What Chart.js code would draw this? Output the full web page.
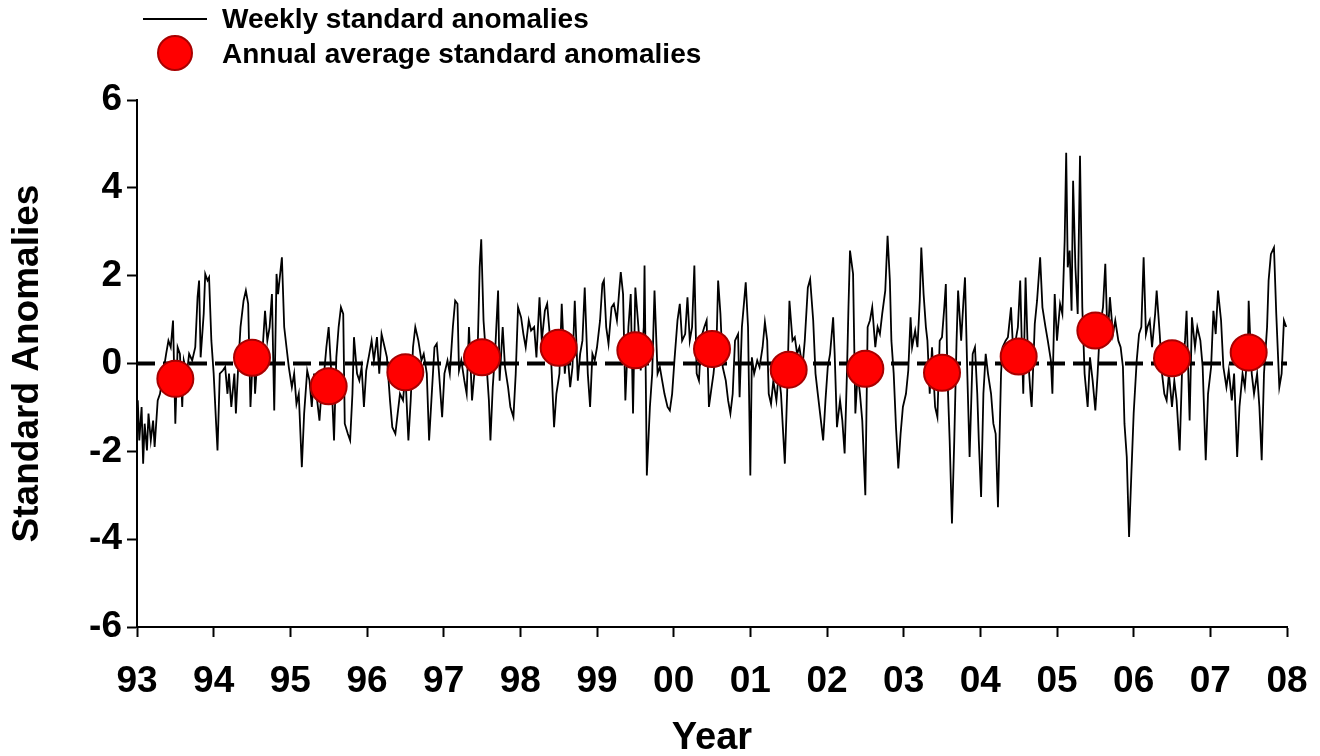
<!DOCTYPE html>
<html>
<head>
<meta charset="utf-8">
<title>Standard anomalies 1993-2008</title>
<script src="https://cdn.jsdelivr.net/npm/chart.js@4.4.1/dist/chart.umd.min.js"></script>
<style>
  html, body { margin: 0; padding: 0; background: #fff; }
  #wrap { width: 1320px; height: 756px; }
</style>
</head>
<body>
<div id="wrap"><canvas id="anomalyChart" width="1320" height="756"></canvas></div>
<script>
// x axis labels, one per year boundary
const xTickLabels = ["93", "94", "95", "96", "97", "98", "99", "00", "01", "02", "03", "04", "05", "06", "07", "08"];

// annual averages, plotted at mid-year
const annualYears = [1993.5, 1994.5, 1995.5, 1996.5, 1997.5, 1998.5, 1999.5, 2000.5,
  2001.5, 2002.5, 2003.5, 2004.5, 2005.5, 2006.5, 2007.5];
const annualValues = [-0.35, 0.13, -0.52, -0.2, 0.14, 0.36, 0.3, 0.33,
  -0.14, -0.12, -0.21, 0.16, 0.75, 0.12, 0.25];

// weekly anomalies (decimal year / value), one line per year
const weekDates = [
  1993.01, 1993.03, 1993.06, 1993.08, 1993.10, 1993.13, 1993.15, 1993.18, 1993.21, 1993.23, 1993.27, 1993.30, 1993.34, 1993.38, 1993.41, 1993.44, 1993.47, 1993.50, 1993.53, 1993.56, 1993.59, 1993.61, 1993.65, 1993.68, 1993.72, 1993.76, 1993.79, 1993.81, 1993.83, 1993.87, 1993.89, 1993.92, 1993.94, 1993.97,
  1994.00, 1994.03, 1994.05, 1994.08, 1994.12, 1994.15, 1994.18, 1994.20, 1994.23, 1994.27, 1994.29, 1994.32, 1994.35, 1994.39, 1994.42, 1994.45, 1994.48, 1994.52, 1994.54, 1994.58, 1994.61, 1994.64, 1994.67, 1994.70, 1994.73, 1994.76, 1994.79, 1994.82, 1994.84, 1994.89, 1994.92, 1994.95, 1994.98,
  1995.02, 1995.05, 1995.08, 1995.11, 1995.15, 1995.18, 1995.22, 1995.25, 1995.28, 1995.31, 1995.35, 1995.38, 1995.41, 1995.44, 1995.47, 1995.50, 1995.53, 1995.57, 1995.60, 1995.63, 1995.66, 1995.69, 1995.71, 1995.75, 1995.78, 1995.81, 1995.83, 1995.87, 1995.90, 1995.93, 1995.96, 1995.99,
  1996.03, 1996.06, 1996.09, 1996.13, 1996.16, 1996.19, 1996.23, 1996.26, 1996.30, 1996.33, 1996.37, 1996.40, 1996.43, 1996.47, 1996.50, 1996.54, 1996.57, 1996.60, 1996.63, 1996.67, 1996.71, 1996.74, 1996.78, 1996.81, 1996.84, 1996.88, 1996.91, 1996.94, 1996.98,
  1997.01, 1997.05, 1997.08, 1997.12, 1997.15, 1997.18, 1997.20, 1997.23, 1997.27, 1997.30, 1997.33, 1997.37, 1997.40, 1997.44, 1997.47, 1997.49, 1997.52, 1997.55, 1997.59, 1997.61, 1997.64, 1997.67, 1997.71, 1997.73, 1997.77, 1997.80, 1997.84, 1997.87, 1997.91, 1997.94, 1997.97,
  1998.01, 1998.04, 1998.07, 1998.11, 1998.14, 1998.18, 1998.21, 1998.25, 1998.28, 1998.32, 1998.35, 1998.39, 1998.41, 1998.44, 1998.47, 1998.51, 1998.54, 1998.58, 1998.61, 1998.65, 1998.68, 1998.71, 1998.75, 1998.78, 1998.81, 1998.84, 1998.88, 1998.91, 1998.94, 1998.97,
  1999.00, 1999.04, 1999.07, 1999.09, 1999.12, 1999.15, 1999.19, 1999.22, 1999.26, 1999.29, 1999.31, 1999.34, 1999.37, 1999.41, 1999.44, 1999.47, 1999.50, 1999.54, 1999.57, 1999.61, 1999.62, 1999.65, 1999.69, 1999.72, 1999.75, 1999.79, 1999.82, 1999.85, 1999.88, 1999.92, 1999.95, 1999.98,
  2000.01, 2000.05, 2000.08, 2000.11, 2000.15, 2000.18, 2000.21, 2000.24, 2000.27, 2000.30, 2000.33, 2000.36, 2000.40, 2000.43, 2000.46, 2000.49, 2000.52, 2000.56, 2000.58, 2000.61, 2000.64, 2000.68, 2000.71, 2000.74, 2000.77, 2000.80, 2000.84, 2000.86, 2000.89, 2000.92, 2000.94, 2000.97,
  2001.00, 2001.02, 2001.05, 2001.09, 2001.12, 2001.16, 2001.19, 2001.22, 2001.24, 2001.27, 2001.30, 2001.34, 2001.37, 2001.40, 2001.45, 2001.48, 2001.51, 2001.55, 2001.58, 2001.61, 2001.64, 2001.68, 2001.71, 2001.75, 2001.78, 2001.82, 2001.85, 2001.88, 2001.91, 2001.95, 2001.98,
  2002.01, 2002.04, 2002.08, 2002.10, 2002.13, 2002.17, 2002.20, 2002.23, 2002.26, 2002.28, 2002.30, 2002.34, 2002.37, 2002.40, 2002.43, 2002.46, 2002.50, 2002.53, 2002.56, 2002.59, 2002.63, 2002.66, 2002.69, 2002.72, 2002.76, 2002.79, 2002.82, 2002.84, 2002.87, 2002.90, 2002.93, 2002.96, 2002.99,
  2003.03, 2003.06, 2003.09, 2003.11, 2003.15, 2003.18, 2003.21, 2003.23, 2003.26, 2003.29, 2003.31, 2003.34, 2003.37, 2003.41, 2003.44, 2003.47, 2003.50, 2003.53, 2003.55, 2003.57, 2003.60, 2003.63, 2003.66, 2003.69, 2003.71, 2003.75, 2003.78, 2003.80, 2003.83, 2003.86, 2003.90, 2003.93, 2003.96, 2003.98,
  2004.01, 2004.04, 2004.07, 2004.10, 2004.14, 2004.17, 2004.20, 2004.23, 2004.27, 2004.29, 2004.33, 2004.36, 2004.40, 2004.43, 2004.46, 2004.49, 2004.52, 2004.54, 2004.56, 2004.59, 2004.62, 2004.66, 2004.67, 2004.71, 2004.74, 2004.78, 2004.81, 2004.85, 2004.88, 2004.92, 2004.94, 2004.97,
  2005.00, 2005.04, 2005.07, 2005.10, 2005.12, 2005.14, 2005.165, 2005.19, 2005.21, 2005.24, 2005.27, 2005.30, 2005.33, 2005.36, 2005.40, 2005.43, 2005.465, 2005.50, 2005.53, 2005.56, 2005.60, 2005.63, 2005.66, 2005.69, 2005.73, 2005.76, 2005.80, 2005.83, 2005.86, 2005.88, 2005.91, 2005.94, 2005.97,
  2006.00, 2006.04, 2006.07, 2006.10, 2006.13, 2006.16, 2006.18, 2006.21, 2006.24, 2006.28, 2006.30, 2006.34, 2006.37, 2006.40, 2006.43, 2006.46, 2006.50, 2006.53, 2006.56, 2006.60, 2006.63, 2006.67, 2006.69, 2006.73, 2006.76, 2006.80, 2006.83, 2006.87, 2006.90, 2006.94, 2006.97,
  2007.01, 2007.04, 2007.07, 2007.10, 2007.14, 2007.17, 2007.21, 2007.24, 2007.28, 2007.31, 2007.35, 2007.38, 2007.42, 2007.45, 2007.49, 2007.50, 2007.54, 2007.57, 2007.61, 2007.64, 2007.67, 2007.70, 2007.74, 2007.76, 2007.79, 2007.83, 2007.86, 2007.90, 2007.93, 2007.96, 2007.99
];
const weekValues = [
  -0.84, -1.75, -0.99, -2.28, -1.37, -1.98, -1.14, -1.75, -1.30, -1.90, -0.84, -0.69, -0.23, 0.22, 0.52, 0.37, 0.98, -1.37, 0.37, 0.22, -0.99, 0.07, -0.23, 0.22, 0.07, 0.37, 1.51, 1.89, 0.14, 1.13, 2.04, 1.89, 1.96, 0.52,
  -0.23, -1.30, -1.98, -0.23, -0.16, -0.08, -0.69, -0.23, -0.99, -0.23, -1.14, -0.08, 0.83, 1.43, 1.66, 1.36, -0.99, 0.52, -0.69, 0.37, -0.23, 0.37, 1.20, 0.52, 0.83, 1.58, -1.07, 2.04, 1.58, 2.42, 0.83, 0.37, -0.08,
  -0.54, -0.23, -0.92, -0.69, -2.36, -1.14, -0.16, -0.39, -0.99, -0.23, -0.84, -1.30, -0.54, -0.23, 0.37, 0.83, -0.08, -1.75, 0.14, 0.83, 1.28, 1.13, -1.37, -1.60, -1.75, -0.69, 0.60, -0.23, -0.39, -0.08, -0.99, -0.16,
  0.22, 0.52, 0.07, 0.60, -0.23, 0.67, 0.37, 0.14, -0.84, -1.45, -1.60, -1.14, -0.69, -0.84, -0.23, -1.75, -0.84, 0.37, 0.83, 0.52, 0.07, 0.22, -0.23, -1.75, -0.84, 0.37, 0.45, -0.23, -1.22,
  -0.23, 0.07, -0.23, 0.83, 1.43, 1.36, -0.16, 0.07, -0.39, -0.69, 0.83, -0.84, -0.23, 0.07, 2.19, 2.83, 0.98, 0.22, -0.84, -1.75, -0.54, 0.22, 1.66, -0.39, 0.83, -0.08, -0.54, -0.99, -1.22, -0.23, 1.28,
  1.05, 0.67, 0.37, 0.98, 0.75, 0.83, 0.14, 1.51, 0.52, 1.20, 1.36, 0.52, -0.23, -1.45, -0.69, -0.23, 1.36, -0.23, 0.37, -0.54, -0.08, 1.43, -0.39, 0.22, 0.52, 1.73, -0.23, -0.99, 0.22, 0.07,
  0.37, 0.98, 1.81, 1.89, 0.83, 0.45, 1.28, 1.36, 0.98, 1.66, 2.08, 1.58, -0.84, 0.83, 1.58, -1.14, 1.73, 0.83, -0.16, 0.83, 2.23, -2.55, -0.99, -0.23, 1.66, -0.23, -0.08, -0.39, -0.69, -0.99, -1.07, -0.69,
  0.07, 0.98, 1.36, 0.52, 0.67, 1.51, 0.52, 0.83, 2.23, -0.23, -0.39, 0.60, 0.83, 0.98, -0.99, -0.60, -0.23, 0.52, 1.89, 1.13, -0.08, -0.39, -0.84, -1.14, -0.69, 0.52, 0.67, -0.77, 0.83, 1.43, 1.85, 0.83,
  -2.55, 0.14, -0.23, 0.07, -0.08, 0.37, 0.94, 0.52, -0.69, -0.92, -0.39, -0.84, -0.23, -0.69, -2.28, -0.69, 1.43, 0.52, 0.60, 0.22, 0.37, -0.08, 0.52, 1.73, 1.92, 0.98, -0.23, -0.69, -1.14, -1.75, -0.84,
  -0.08, 0.22, 1.05, 0.22, -1.45, -0.84, -1.30, -2.05, -0.23, 1.28, 2.57, 2.04, -1.14, -0.23, -0.69, -1.30, -3.00, 0.83, 0.98, 1.28, 0.37, 0.83, 0.67, 1.13, 1.66, 2.91, 1.89, 0.52, -0.23, -1.45, -2.39, -1.60, -0.99,
  -0.69, -0.16, 1.05, 0.37, 0.75, 0.37, 1.43, 2.64, 1.58, 0.83, 0.52, -0.69, 0.37, -0.99, -1.22, 0.52, 0.60, 1.28, 1.81, -0.23, -1.75, -3.64, -1.75, 0.52, 1.66, 0.52, 1.43, 1.96, -0.23, -2.13, 0.22, 0.37, -0.69, -1.75,
  -3.04, -0.69, 0.22, -0.23, -0.69, -1.37, -1.60, -3.27, -0.23, 0.37, 0.52, 0.60, 1.28, 0.22, 0.52, 0.83, 1.89, 0.52, -0.69, 1.96, 0.22, -0.84, -0.99, 0.90, 1.43, 2.42, 1.28, 0.83, 0.52, 0.07, -0.69, 1.58,
  0.52, 1.36, 1.13, 2.80, 4.80, 2.19, 2.57, 1.20, 4.16, 2.19, 1.13, 4.73, 1.28, -0.23, -0.99, 0.14, -0.39, -1.07, -0.23, 0.83, 1.28, 2.27, 0.52, 1.51, 0.67, 0.98, 0.52, 0.37, -0.08, -1.37, -2.13, -3.95, -2.51,
  -1.14, 0.07, 0.67, 0.83, 2.42, 0.67, 0.83, 0.98, 0.37, 1.13, 1.66, 0.67, -0.23, -0.69, -0.84, -0.23, -0.99, -0.39, -0.84, -1.98, -0.23, 0.52, 1.20, -1.30, 1.05, 0.37, 0.83, 0.52, -0.08, -2.20, -0.69,
  -0.08, 1.20, 0.67, 1.66, 0.98, -0.08, -0.54, -0.16, -0.84, -0.23, -2.13, -0.99, -0.23, -0.54, 0.37, 1.43, -0.23, -0.69, -0.23, -0.99, -2.20, -0.23, 0.83, 1.89, 2.49, 2.64, 1.13, -0.54, -0.23, 0.98, 0.83
];

const FONT = 'Arial, "Liberation Sans", sans-serif';

// legend drawn top-left, above the plot area
const cornerLegend = {
  id: "cornerLegend",
  afterDraw(chart) {
    const ctx = chart.ctx;
    const annual = chart.data.datasets[0];
    const weekly = chart.data.datasets[2];
    ctx.save();
    ctx.font = "bold 28px " + FONT;
    ctx.fillStyle = "#000";
    ctx.textBaseline = "middle";

    ctx.strokeStyle = "#000";
    ctx.lineWidth = 2;
    ctx.beginPath();
    ctx.moveTo(143, 19);
    ctx.lineTo(207, 19);
    ctx.stroke();
    ctx.fillText(weekly.label, 222, 20);

    ctx.beginPath();
    ctx.arc(175, 53, 17, 0, Math.PI * 2);
    ctx.fillStyle = annual.pointBackgroundColor;
    ctx.fill();
    ctx.lineWidth = 2;
    ctx.strokeStyle = annual.pointBorderColor;
    ctx.stroke();
    ctx.fillStyle = "#000";
    ctx.fillText(annual.label, 222, 55);
    ctx.restore();
  }
};

const ctx = document.getElementById("anomalyChart").getContext("2d");
new Chart(ctx, {
  type: "line",
  data: {
    datasets: [
      {
        label: "Annual average standard anomalies",
        data: annualYears.map((yr, i) => ({ x: yr, y: annualValues[i] })),
        showLine: false,
        pointRadius: 18,
        pointBackgroundColor: "#ff0000",
        pointBorderColor: "#a80000",
        pointBorderWidth: 2,
      },
      {
        label: "zero",
        data: [{ x: 1993, y: 0 }, { x: 2008, y: 0 }],
        borderColor: "#000",
        borderWidth: 4,
        borderDash: [18, 8],
        pointRadius: 0,
      },
      {
        label: "Weekly standard anomalies",
        data: weekDates.map((t, i) => ({ x: t, y: weekValues[i] })),
        borderColor: "#000",
        borderWidth: 1.8,
        pointRadius: 0,
        tension: 0,
      },
    ],
  },
  options: {
    responsive: false,
    animation: false,
    events: [],
    layout: { padding: { top: 100, right: 33, left: 0, bottom: 0 } },
    plugins: {
      legend: { display: false },
      tooltip: { enabled: false },
    },
    scales: {
      x: {
        type: "linear",
        min: 1993,
        max: 2008,
        afterBuildTicks: (scale) => {
          scale.ticks = xTickLabels.map((_, i) => ({ value: 1993 + i }));
        },
        afterFit: (scale) => {
          scale.height = 129;
          scale.paddingLeft = 0;
          scale.paddingRight = 0;
        },
        ticks: {
          autoSkip: false,
          maxRotation: 0,
          color: "#000",
          padding: 23,
          font: { family: FONT, size: 37, weight: "bold" },
          callback: (value) => xTickLabels[Math.round(value - 1993)],
        },
        grid: {
          drawOnChartArea: false,
          tickLength: 10,
          tickWidth: 2,
          tickColor: "#000",
        },
        border: { display: true, color: "#000", width: 2 },
        title: {
          display: true,
          text: "Year",
          color: "#000",
          padding: { top: 0, bottom: 0 },
          font: { family: FONT, size: 38, weight: "bold", lineHeight: 0.9 },
        },
      },
      y: {
        min: -6,
        max: 6,
        afterFit: (scale) => {
          scale.width = 137;
          scale.paddingTop = 0;
          scale.paddingBottom = 0;
        },
        ticks: {
          stepSize: 2,
          color: "#000",
          padding: 5,
          font: { family: FONT, size: 37, weight: "bold" },
        },
        grid: {
          drawOnChartArea: false,
          tickLength: 10,
          tickWidth: 2,
          tickColor: "#000",
        },
        border: { display: true, color: "#000", width: 2 },
        title: {
          display: true,
          text: "Standard Anomalies",
          color: "#000",
          padding: { top: 6, bottom: 0 },
          font: { family: FONT, size: 37, weight: "bold" },
        },
      },
    },
  },
  plugins: [cornerLegend],
});
</script>
</body>
</html>
